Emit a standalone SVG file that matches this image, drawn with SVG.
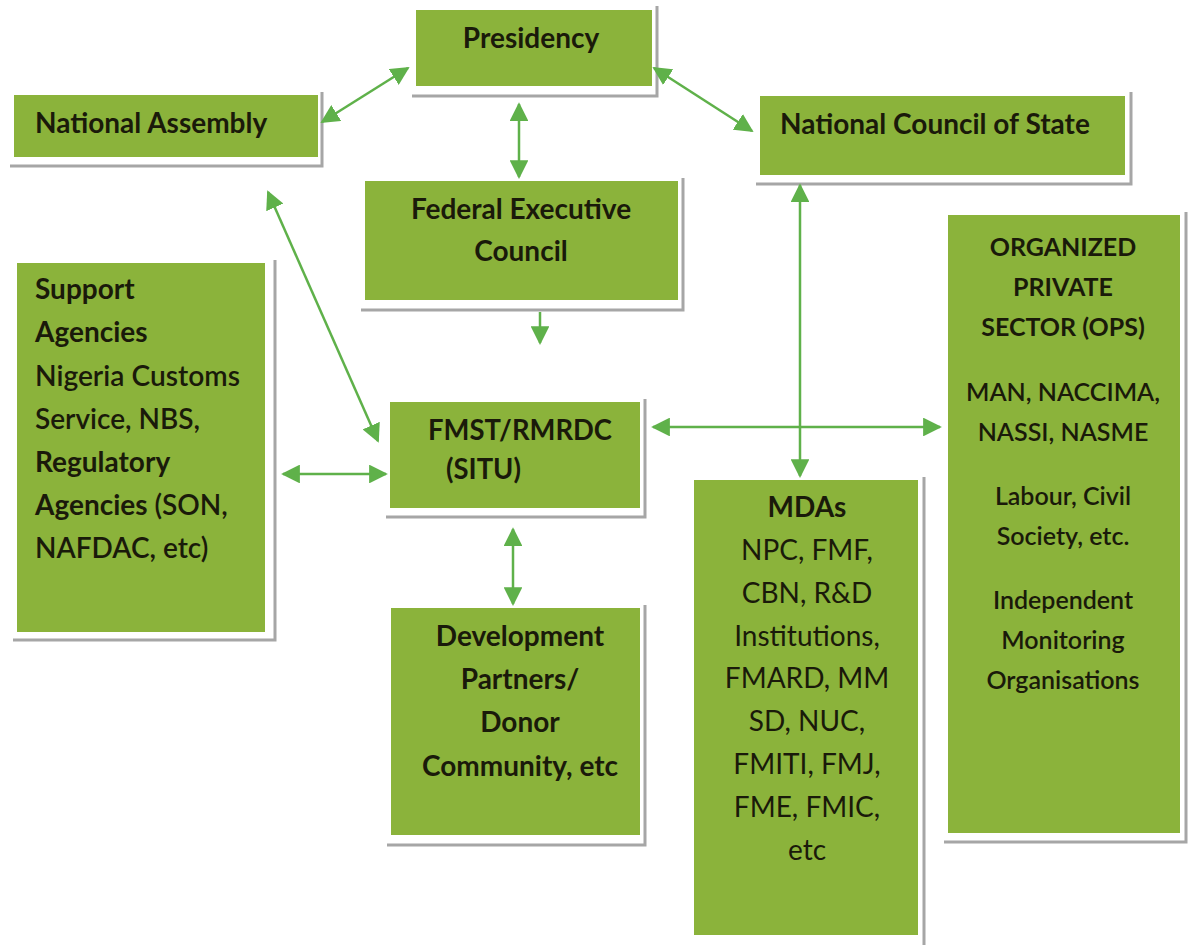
<svg xmlns="http://www.w3.org/2000/svg" width="1194" height="945" viewBox="0 0 1194 945">
<style>
.box{fill:#8bb33b}
.sh{fill:none;stroke:#a6a6a6;stroke-width:3}
.t{font-family:Lato,"Liberation Sans",sans-serif;font-size:28px;font-weight:bold;fill:#1a1a0a}
.r{font-weight:normal}
.m{font-weight:600}
.c{text-anchor:middle}
.s{font-size:25px}
.ar{stroke:#5fb14a;stroke-width:2.5;fill:none;marker-start:url(#h);marker-end:url(#h)}
.ar1{stroke:#5fb14a;stroke-width:2.5;fill:none;marker-end:url(#h)}
</style>
<defs>
<marker id="h" viewBox="0 0 10 10" refX="9" refY="5" markerWidth="7.5" markerHeight="7.5" markerUnits="strokeWidth" orient="auto-start-reverse">
<path d="M0,0 L10,5 L0,10 z" fill="#5fb14a"/>
</marker>
</defs>
<rect width="1194" height="945" fill="#ffffff"/>

<g id="presidency">
<path class="sh" d="M412,96 H657 V6"/>
<rect class="box" x="416" y="10" width="236" height="76"/>
<text class="t c" x="531" y="48">Presidency</text>
</g>

<g id="national-assembly">
<path class="sh" d="M10,166 H322 V92"/>
<rect class="box" x="14" y="95" width="304" height="62"/>
<text class="t" x="35" y="133">National Assembly</text>
</g>

<g id="national-council">
<path class="sh" d="M756,184 H1131 V92"/>
<rect class="box" x="760" y="96" width="365" height="79"/>
<text class="t" x="780" y="134">National Council of State</text>
</g>

<g id="fec">
<path class="sh" d="M361,310 H683 V178"/>
<rect class="box" x="365" y="181" width="313" height="119"/>
<text class="t c" x="521" y="219">Federal Executive</text>
<text class="t c" x="521" y="261">Council</text>
</g>

<g id="support">
<path class="sh" d="M13,640 H275 V260"/>
<rect class="box" x="17" y="263" width="248" height="369"/>
<text class="t" x="35" y="299">Support</text>
<text class="t" x="35" y="342">Agencies</text>
<text class="t m" x="35" y="386" textLength="205" lengthAdjust="spacingAndGlyphs">Nigeria Customs</text>
<text class="t m" x="35" y="429">Service, NBS,</text>
<text class="t" x="35" y="472">Regulatory</text>
<text class="t" x="35" y="515">Agencies <tspan class="m">(SON,</tspan></text>
<text class="t m" x="35" y="558">NAFDAC, etc)</text>
</g>

<g id="fmst">
<path class="sh" d="M386,517 H645 V399"/>
<rect class="box" x="390" y="402" width="250" height="106"/>
<text class="t" x="428" y="440" textLength="184" lengthAdjust="spacingAndGlyphs">FMST/RMRDC</text>
<text class="t" x="446" y="479" textLength="75" lengthAdjust="spacingAndGlyphs">(SITU)</text>
</g>

<g id="ops">
<path class="sh" d="M944,842 H1186 V212"/>
<rect class="box" x="948" y="215" width="232" height="618"/>
<text class="t c s" x="1063" y="256">ORGANIZED</text>
<text class="t c s" x="1063" y="296">PRIVATE</text>
<text class="t c s" x="1063" y="336">SECTOR (OPS)</text>
<text class="t c s m" x="1063" y="401">MAN, NACCIMA,</text>
<text class="t c s m" x="1063" y="441">NASSI, NASME</text>
<text class="t c s m" x="1063" y="505">Labour, Civil</text>
<text class="t c s m" x="1063" y="545">Society, etc.</text>
<text class="t c s m" x="1063" y="609">Independent</text>
<text class="t c s m" x="1063" y="649">Monitoring</text>
<text class="t c s m" x="1063" y="689">Organisations</text>
</g>

<g id="mdas">
<path class="sh" d="M924,945 V477"/>
<rect class="box" x="694" y="480" width="224" height="455"/>
<text class="t c" x="807" y="517">MDAs</text>
<text class="t c r" x="807" y="560">NPC, FMF,</text>
<text class="t c r" x="807" y="603">CBN, R&amp;D</text>
<text class="t c r" x="807" y="646">Institutions,</text>
<text class="t c r" x="807" y="688">FMARD, MM</text>
<text class="t c r" x="807" y="731">SD, NUC,</text>
<text class="t c r" x="807" y="774">FMITI, FMJ,</text>
<text class="t c r" x="807" y="817">FME, FMIC,</text>
<text class="t c r" x="807" y="860">etc</text>
</g>

<g id="dev-partners">
<path class="sh" d="M387,845 H645 V605"/>
<rect class="box" x="391" y="608" width="249" height="227"/>
<text class="t c" x="520" y="646">Development</text>
<text class="t c" x="520" y="689">Partners/</text>
<text class="t c" x="520" y="732">Donor</text>
<text class="t c" x="520" y="776">Community, etc</text>
</g>

<g id="connectors">
<line class="ar" x1="408" y1="68" x2="322" y2="122"/>
<line class="ar" x1="654" y1="68" x2="752" y2="131"/>
<line class="ar" x1="519" y1="104" x2="519" y2="177"/>
<line class="ar1" x1="540" y1="312" x2="540" y2="343"/>
<line class="ar" x1="268" y1="192" x2="378" y2="441"/>
<line class="ar" x1="283" y1="474" x2="386" y2="474"/>
<line class="ar" x1="653" y1="427" x2="940" y2="427"/>
<line class="ar" x1="800" y1="185" x2="800" y2="476"/>
<line class="ar" x1="513" y1="529" x2="513" y2="604"/>
</g>
</svg>
